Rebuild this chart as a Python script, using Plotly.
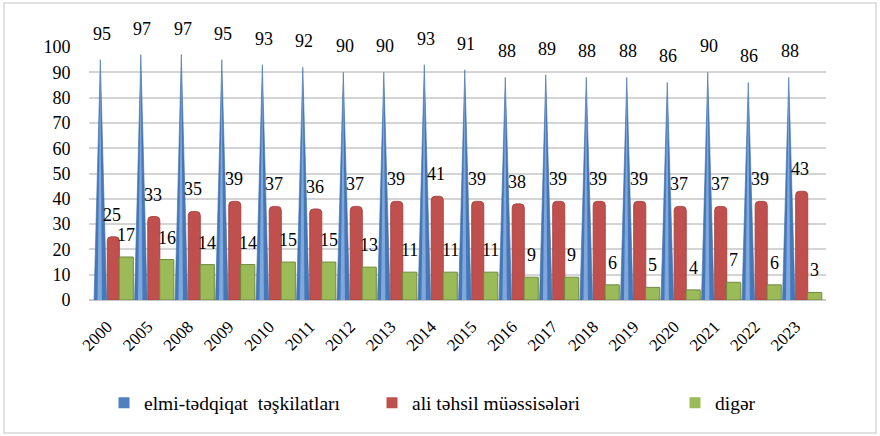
import plotly.graph_objects as go

years = ["2000", "2005", "2008", "2009", "2010", "2011", "2012", "2013", "2014",
         "2015", "2016", "2017", "2018", "2019", "2020", "2021", "2022", "2023"]
research_orgs = [95, 97, 97, 95, 93, 92, 90, 90, 93, 91, 88, 89, 88, 88, 86, 90, 86, 88]
higher_edu = [25, 33, 35, 39, 37, 36, 37, 39, 41, 39, 38, 39, 39, 39, 37, 37, 39, 43]
other = [17, 16, 14, 14, 15, 15, 13, 11, 11, 11, 9, 9, 6, 5, 4, 7, 6, 3]

names = ["elmi-tədqiqat  təşkilatları", "ali təhsil müəssisələri", "digər"]
colors = ["#4F81BD", "#C0504D", "#9BBB59"]

FONT = "Liberation Serif"
idx = list(range(len(years)))

# geometry (in category units)
B_OFF, B_HALF = -0.32, 0.155
R_OFF, R_W = -0.15, 0.30
G_OFF, G_W = 0.145, 0.35
TICK_SHIFT = -0.15

# blue spikes (pyramids) built from the data
sx, sy, hx, hy = [], [], [], []
for i, v in zip(idx, research_orgs):
    c = i + B_OFF
    sx += [c - B_HALF, c, c + B_HALF, None]
    sy += [0, v, 0, None]
    hx += [c - 0.07, c, c + 0.04, None]
    hy += [0, v, 0, None]

fig = go.Figure()
fig.add_trace(go.Scatter(x=sx, y=sy, mode="lines", fill="toself",
                         fillcolor="#4677B8", line=dict(width=0.6, color="#3D6BA8"),
                         showlegend=False, hoverinfo="skip"))
fig.add_trace(go.Scatter(x=hx, y=hy, mode="lines", fill="toself",
                         fillcolor="#7FA8DC", line=dict(width=0),
                         showlegend=False, hoverinfo="skip"))
fig.add_trace(go.Bar(x=idx, y=higher_edu, offset=R_OFF, width=R_W,
                     marker=dict(color=colors[1], line=dict(color="#9E3B38", width=0.8),
                                 cornerradius=4),
                     showlegend=False))
fig.add_trace(go.Bar(x=idx, y=other, offset=G_OFF, width=G_W,
                     marker=dict(color=colors[2], line=dict(color="#71893F", width=1)),
                     showlegend=False))

# legend entries
for k, (nm, col) in enumerate(zip(names, colors)):
    fig.add_trace(go.Scatter(x=[None], y=[None], mode="markers", name=nm,
                             marker=dict(symbol="square", size=11, color=col),
                             legend="legend" if k == 0 else f"legend{k+1}"))

ann = []
for i, v in zip(idx, research_orgs):
    ann.append(dict(x=i + B_OFF + 0.03, y=v, text=str(v), yshift=26))
for i, v in zip(idx, higher_edu):
    ann.append(dict(x=i - 0.03, y=v, text=str(v), yshift=22))
for i, v in zip(idx, other):
    ann.append(dict(x=i + 0.32, y=v, text=str(v), yshift=22))
for a in ann:
    a.update(xref="x", yref="y", showarrow=False, yanchor="middle",
             font=dict(family=FONT, size=18, color="#000"))

leg_common = dict(orientation="h", xref="container", yref="container",
                  yanchor="middle", xanchor="left", bgcolor="rgba(0,0,0,0)",
                  font=dict(family=FONT, size=19.5, color="#000"))
L, R, T, Bm = 89, 54, 47, 136
W, H = 880, 436
pw, ph = W - L - R, H - T - Bm

fig.update_layout(
    width=W, height=H,
    margin=dict(l=L, r=R, t=T, b=Bm),
    paper_bgcolor="white", plot_bgcolor="white",
    barmode="overlay",
    annotations=ann,
    showlegend=True,
    legend=dict(x=104 / W, y=1 - 403 / H, **leg_common),
    legend2=dict(x=372 / W, y=1 - 403 / H, **leg_common),
    legend3=dict(x=675 / W, y=1 - 403 / H, **leg_common),
    xaxis=dict(range=[-0.6, 17.6], tickmode="array",
               tickvals=[i + TICK_SHIFT for i in idx], ticktext=years,
               tickangle=-45, ticks="outside", ticklen=9, tickcolor="rgba(0,0,0,0)",
               tickfont=dict(family=FONT, size=17, color="#000"),
               showgrid=False, zeroline=False, showline=False),
    yaxis=dict(range=[0, 100], dtick=10, ticks="outside", ticklen=14,
               tickcolor="rgba(0,0,0,0)",
               tickfont=dict(family=FONT, size=18, color="#000"),
               showgrid=True, gridcolor="#D4D4D4", gridwidth=2,
               zeroline=True, zerolinecolor="#C8C8C8", zerolinewidth=2,
               showline=False),
    shapes=[dict(type="rect", xref="paper", yref="paper",
                 x0=(4 - L) / pw, x1=(876 - L) / pw,
                 y0=(H - 433 - Bm) / ph, y1=(H - 3 - Bm) / ph,
                 line=dict(color="#D9D9D9", width=1.5), layer="below")],
)

fig.write_html("out.html", post_script="document.body.style.margin='0';",
               config={"displayModeBar": False})
